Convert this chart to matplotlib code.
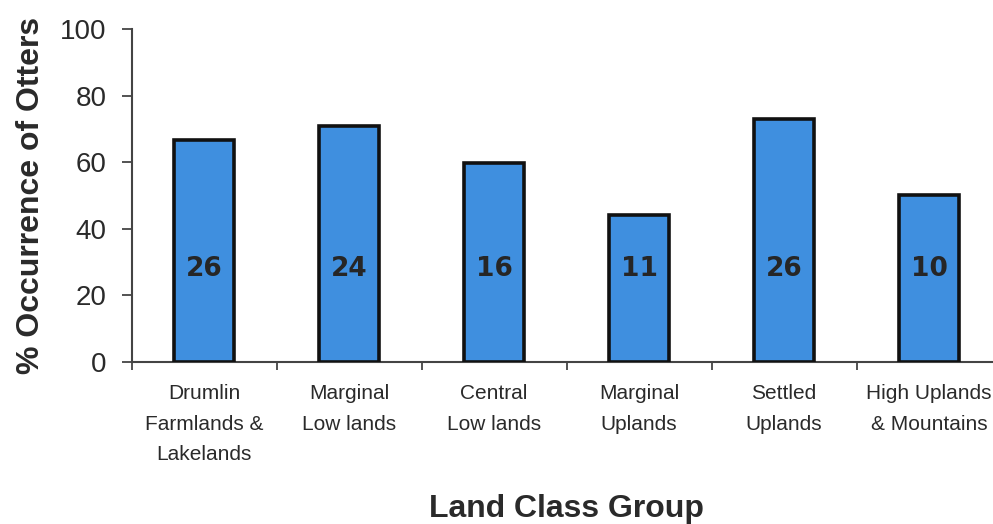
import matplotlib
matplotlib.use("Agg")
import matplotlib.pyplot as plt
import numpy as np

categories = ["Drumlin\nFarmlands &\nLakelands", "Marginal\nLow lands", "Central\nLow lands",
              "Marginal\nUplands", "Settled\nUplands", "High Uplands\n& Mountains"]
occurrence = [66.7, 71.0, 59.7, 44.1, 73.0, 50.2]
n_sites = ["26", "24", "16", "11", "26", "10"]
yticks = [0, 20, 40, 60, 80, 100]

plt.rcParams['font.family'] = ['Liberation Sans', 'DejaVu Sans']
text_col = '#2a2a2a'

fig = plt.figure(figsize=(9.93, 5.24), dpi=100)
ax = fig.add_axes([0.1326, 0.309, 0.876, 0.6355])

x = np.arange(len(categories))
ax.bar(x, occurrence, width=0.41, color='#3f8fdf', edgecolor='#111111', linewidth=2.6, zorder=3)

for xi, lab in zip(x, n_sites):
    ax.text(xi, 28, lab, ha='center', va='center', fontsize=19, fontweight='bold',
            family='DejaVu Sans', color='#262626', zorder=4)

ax.set_xlim(-0.5, 5.5)
ax.set_ylim(0, 100)
ax.set_yticks(yticks)
ax.set_yticklabels([str(v) for v in yticks], fontsize=20, color=text_col)

ax.set_xticks(np.arange(-0.5, 6.0, 1.0))
ax.set_xticklabels([])
ax.set_xticks(x, minor=True)
ax.set_xticklabels(categories, minor=True, fontsize=15, color=text_col, linespacing=1.75)
ax.tick_params(axis='x', which='minor', length=0, pad=16)
ax.tick_params(axis='x', which='major', length=6, width=1.3, color='#444444', direction='out')
ax.tick_params(axis='y', length=7, width=1.3, color='#444444', pad=11)

for s in ['top', 'right']:
    ax.spines[s].set_visible(False)
for s in ['left', 'bottom']:
    ax.spines[s].set_color('#444444')
    ax.spines[s].set_linewidth(1.5)

ax.set_ylabel('% Occurrence of Otters', fontsize=23, fontweight='bold', color=text_col, labelpad=10)
ax.set_xlabel('Land Class Group', fontsize=23, fontweight='bold', color=text_col, labelpad=22)

fig.savefig('out.png', dpi=100)
